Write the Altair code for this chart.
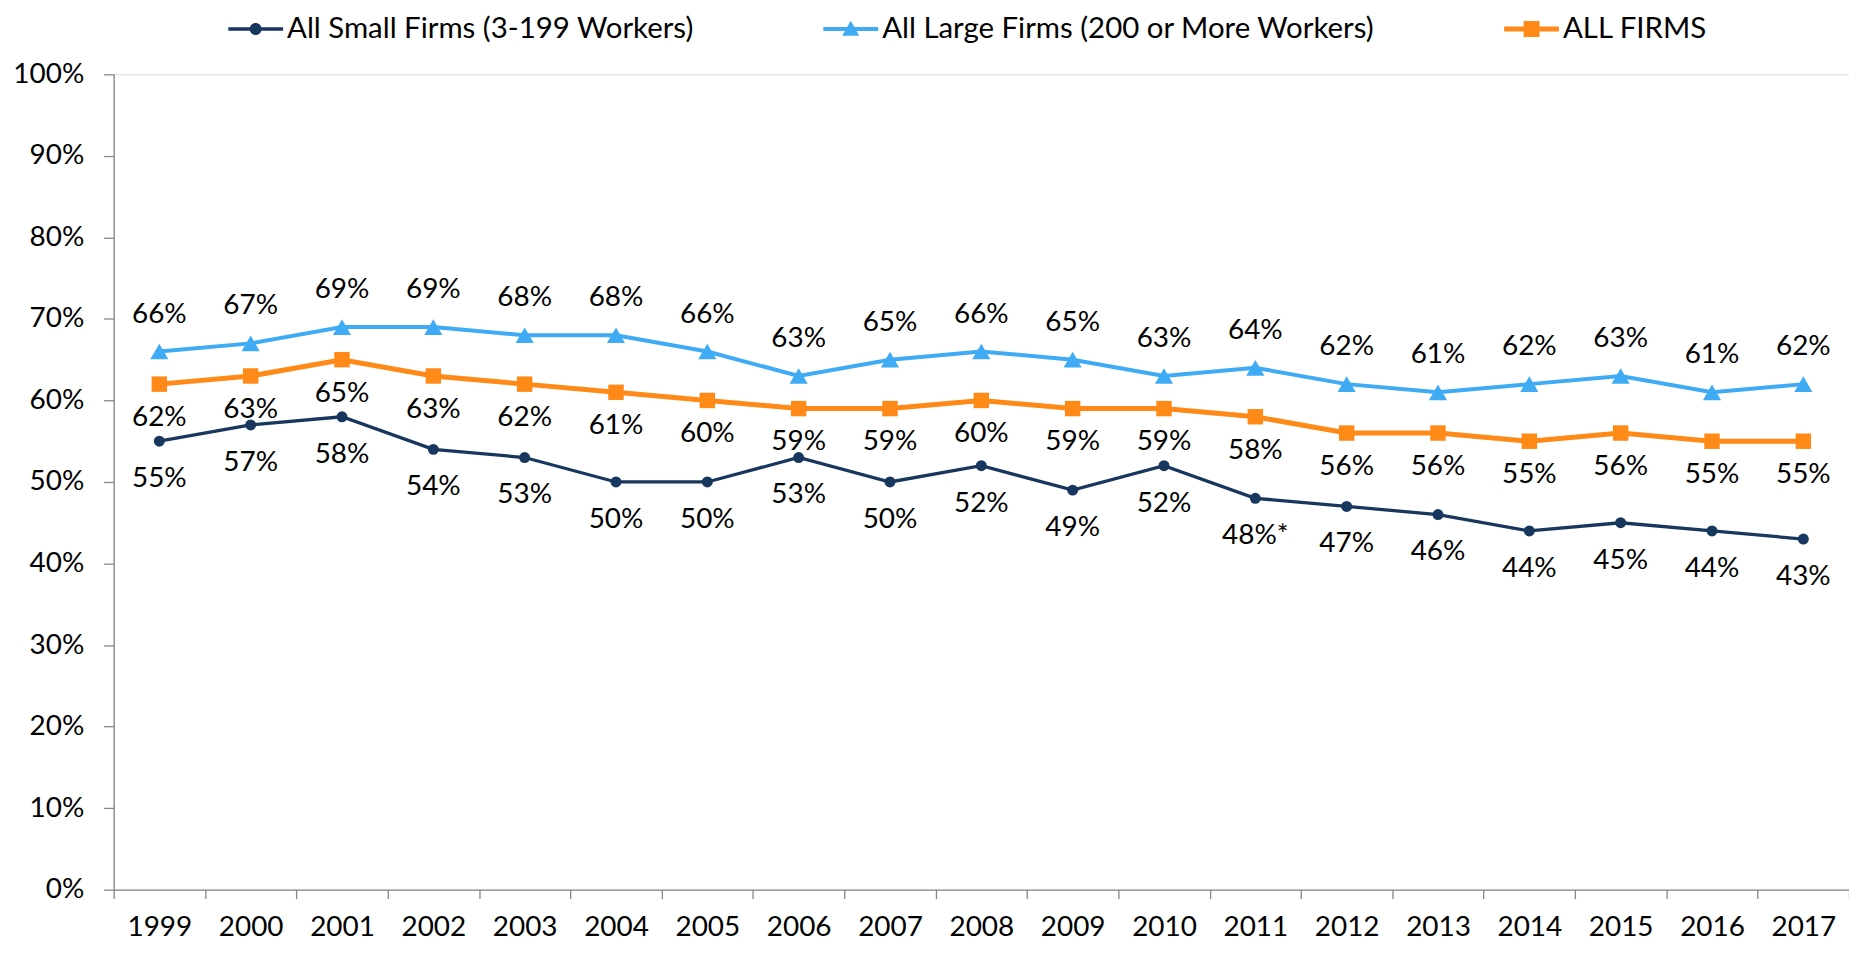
import altair as alt
import pandas as pd

years = list(range(1999, 2018))
small = [55, 57, 58, 54, 53, 50, 50, 53, 50, 52, 49, 52, 48, 47, 46, 44, 45, 44, 43]
large = [66, 67, 69, 69, 68, 68, 66, 63, 65, 66, 65, 63, 64, 62, 61, 62, 63, 61, 62]
allf = [62, 63, 65, 63, 62, 61, 60, 59, 59, 60, 59, 59, 58, 56, 56, 55, 56, 55, 55]
small_notes = {2011: "*"}

series_names = ["All Small Firms (3-199 Workers)", "All Large Firms (200 or More Workers)", "ALL FIRMS"]
series_colors = ["#17375E", "#3FABF5", "#FF8A17"]
legend_paths = [
    "M-1,-0.064H1V0.064H-1Z M-0.22,0A0.22,0.22 0 1,1 0.22,0A0.22,0.22 0 1,1 -0.22,0Z",
    "M-1,-0.073H1V0.073H-1Z M0,-0.3L0.31,0.25L-0.31,0.25Z",
    "M-1,-0.09H1V0.09H-1Z M-0.29,-0.29H0.29V0.29H-0.29Z",
]

rows = []
for name, vals in zip(series_names, [small, large, allf]):
    for y, v in zip(years, vals):
        note = small_notes.get(y, "") if name == series_names[0] else ""
        rows.append({"year": y, "series": name, "value": v / 100.0, "label": f"{v}%{note}"})
df = pd.DataFrame(rows)

FONT = "Lato"
FS = 28

x_enc = alt.X(
    "year:O",
    title=None,
    scale=alt.Scale(type="band", paddingInner=0, paddingOuter=0),
    axis=alt.Axis(
        labelAngle=0, tickBand="extent", tickSize=9, labelPadding=15,
        labelFont=FONT, labelFontSize=FS, labelColor="black",
        domainColor="#868686", tickColor="#868686", domainWidth=1.3, tickWidth=1.3,
        grid=False,
    ),
)
y_enc = alt.Y(
    "value:Q",
    title=None,
    scale=alt.Scale(domain=[0, 1], nice=False),
    axis=alt.Axis(
        values=[i / 10 for i in range(11)], format=".0%", tickSize=10, labelPadding=20,
        labelFont=FONT, labelFontSize=FS, labelColor="black",
        domainColor="#868686", tickColor="#868686", domainWidth=1.3, tickWidth=1.3,
        grid=False,
    ),
)
color_scale = alt.Scale(domain=series_names, range=series_colors)

base = alt.Chart(df)

widths = [3.3, 4, 5]
shapes = ["circle", "triangle-up", "square"]
sizes = [121, 330, 240]
label_dy = [38, -37, 34]

layers = []
for i, name in enumerate(series_names):
    sub = base.transform_filter(alt.datum.series == name)
    layers.append(
        sub.mark_line(strokeWidth=widths[i]).encode(
            x=x_enc, y=y_enc,
            color=alt.Color("series:N", scale=color_scale, legend=None),
        )
    )
for i, name in enumerate(series_names):
    sub = base.transform_filter(alt.datum.series == name)
    layers.append(
        sub.mark_point(filled=True, opacity=1, shape=shapes[i], size=sizes[i]).encode(
            x=x_enc, y=y_enc,
            color=alt.Color("series:N", scale=color_scale, legend=None),
        )
    )
for i, name in enumerate(series_names):
    sub = base.transform_filter(alt.datum.series == name)
    layers.append(
        sub.mark_text(dy=label_dy[i], font=FONT, fontSize=FS, color="black", align="center", baseline="middle").encode(
            x=x_enc, y=y_enc, text="label:N",
        )
    )

legend_props = dict(
    orient="none", direction="horizontal", legendX=115, legendY=-73,
    labelFont=FONT, labelFontSize=29.5, labelColor="black", labelOffset=4, labelLimit=800,
    columnPadding=129, symbolSize=3025, symbolStrokeWidth=0,
)
legend_layer = base.transform_filter("false").mark_point(filled=True, opacity=1, size=3025).encode(
    color=alt.Color("series:N", scale=color_scale, title=None, legend=alt.Legend(**legend_props)),
    shape=alt.Shape(
        "series:N", scale=alt.Scale(domain=series_names, range=legend_paths), title=None,
        legend=alt.Legend(**legend_props),
    ),
)
layers.append(legend_layer)

chart = alt.layer(*layers).resolve_scale(color="independent", shape="independent").properties(
    width=1741,
    height=818,
    padding={"left": 106, "top": 65, "right": 0, "bottom": 52},
    autosize=alt.AutoSizeParams(type="none"),
).configure_view(stroke=None).configure(background="white")

chart.save("out.html", embed_options={"renderer": "svg", "actions": False})
